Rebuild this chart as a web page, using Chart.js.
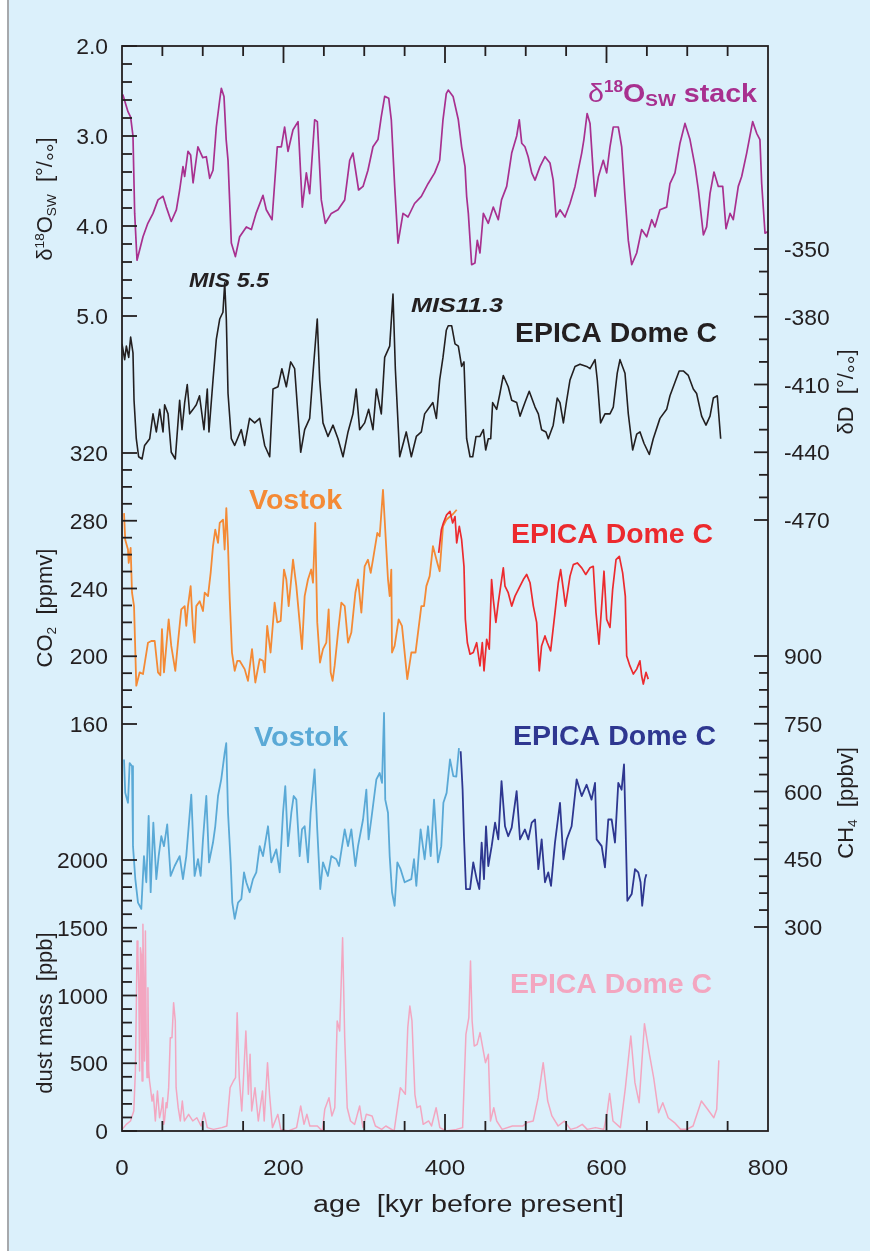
<!DOCTYPE html>
<html>
<head>
<meta charset="utf-8">
<script src="https://cdn.jsdelivr.net/npm/chart.js@4/dist/chart.umd.min.js"></script>
<style>
  html, body { margin: 0; padding: 0; background: #ffffff; }
  canvas { display: block; }
</style>
</head>
<body>
<canvas id="chart" width="870" height="1251" style="width:870px;height:1251px"></canvas>
<script>
// age axis [kyr before present]
const xTicks = [0, 200, 400, 600, 800];

// δ18O seawater stack [per mil]
const o18Age = [1,7.4,10.7,13.6,15.7,18.6,26,32,38.4,44.6,50.8,54.9,61,67.3,71.4,75.5,77.6,81.7,85,88,94,100,104.4,108.6,112.7,116.8,121,123,126.3,129,131.3,135.4,140.4,145.7,154,160.2,166,174.6,178.7,185.8,192.3,197.3,201.4,205.6,211.8,218,223.3,228.3,232.4,238.6,241.9,246.8,251.8,259.2,267.5,275.8,282,286,293,298.5,304.6,310.8,317,321,325.3,330.3,333.5,337.7,341.8,348,354.2,362.3,370.7,379,387.2,393.4,397.5,401.6,404,410,416.5,420.6,424.8,426.8,428.9,433,437.1,440,443.3,447.5,453.6,459.8,466,470,476.4,482.6,488.8,492,495,499,503,507.4,511.5,517.6,523.8,530,534,537.5,542.4,548.6,554.8,561,565,569.3,572,576,579.6,583.6,585.8,590,596,600.2,604.3,608.4,614.6,618.8,622.9,627,631.2,637.4,643.5,649.8,656,660,666.2,674.5,678.6,684.8,691,697.2,703.4,709.7,713.8,720,724,728.2,733.1,738.5,743.9,748,753,757,763.2,767.4,773.6,781,786,790,792.2,796.3,800];
const o18Val = [2.54,2.73,2.79,3.0,3.86,4.38,4.12,3.97,3.86,3.71,3.67,3.79,3.95,3.82,3.6,3.34,3.45,3.17,3.21,3.52,3.12,3.24,3.23,3.47,3.38,2.9,2.6,2.47,2.56,3.04,3.27,4.19,4.34,4.12,4.01,4.04,3.86,3.66,3.82,3.93,3.12,3.12,2.9,3.17,2.93,2.84,3.79,3.41,3.64,2.82,2.84,3.71,3.97,3.86,3.82,3.71,3.27,3.19,3.6,3.56,3.38,3.12,3.04,2.79,2.56,2.58,2.82,3.56,4.19,3.86,3.9,3.75,3.67,3.53,3.41,3.27,2.82,2.53,2.49,2.56,2.82,3.12,3.34,3.67,3.86,4.43,4.41,4.16,4.3,3.86,3.97,3.79,3.93,3.71,3.56,3.19,3.0,2.82,3.08,3.12,3.23,3.41,3.49,3.34,3.23,3.3,3.49,3.9,3.82,3.9,3.75,3.56,3.38,3.19,3.04,2.75,2.86,3.41,3.67,3.45,3.27,3.41,3.12,2.9,2.9,3.12,3.67,4.16,4.43,4.3,4.04,4.12,3.93,4.01,3.82,3.79,3.53,3.41,3.08,2.86,3.04,3.34,3.6,4.1,4.01,3.64,3.4,3.56,3.56,4.03,3.86,3.93,3.56,3.45,3.19,2.84,2.97,3.04,3.53,4.08,4.06];

// EPICA Dome C δD [per mil]
const dDAge = [0,3.3,5.4,8.3,10.7,13.6,14.9,17.7,20.6,24.8,28,34.3,38.4,42.5,46.7,50.8,52.8,57,61,66,68.5,71.4,74.3,77.6,80.8,83.8,88,92,96,101.5,105.6,107.7,112.7,116.8,121,125,127.2,129.2,131.3,135.4,139.5,147.7,151.9,158,164.3,170.5,176.7,182.9,187,193.2,198,203.5,208.9,213.8,221.3,226.2,232.4,236.5,241.8,244.8,248.9,255.1,261.3,267.5,273.7,279.9,286,290,294.3,300.5,305.5,310.8,315,321.1,325.3,331.5,335.6,338.5,343.9,352,358.3,364.5,370.7,374.8,381,385,389.3,393.4,397.5,401.6,404,408.3,412.4,416.5,420.6,423.5,426.8,431,434.3,438.4,443.3,447.5,450.4,453.6,456.6,459,464,468,472.2,478.3,482.6,488.8,492.9,499,504.3,511.5,515.6,519.6,525,527.9,534,539,542.4,546.6,550.7,554.8,561,567.2,575.4,579.6,585.8,588.6,592.7,598.1,604.3,608.4,613.3,616.7,622.9,627,632.4,637.4,641.5,646.4,653,657.9,666.2,674.5,678.6,684.8,690,695.1,701.3,707.5,711.6,717.8,723.2,728.2,732.3,737.2,741.4];
const dDVal = [-392,-399,-393,-398,-389,-396,-417,-434,-442,-443,-437,-434,-423,-431,-421,-431,-419,-423,-440,-443,-431,-417,-430,-418,-410,-423,-421,-419,-415,-430,-412,-431,-408,-390,-381,-378,-365,-381,-414,-434,-437,-430,-437,-425,-427,-425,-437,-442,-412,-411,-403,-411,-400,-403,-440,-430,-425,-405,-381,-408,-427,-433,-428,-434,-442,-431,-423,-412,-430,-427,-421,-430,-412,-423,-398,-393,-370,-403,-442,-431,-442,-433,-431,-423,-420,-418,-425,-408,-398,-386,-384,-384,-392,-393,-402,-400,-434,-442,-442,-433,-433,-430,-439,-434,-434,-418,-421,-414,-406,-411,-417,-418,-424,-418,-413,-420,-423,-430,-431,-434,-428,-416,-418,-427,-417,-408,-402,-401,-402,-403,-399,-408,-427,-423,-423,-420,-405,-399,-405,-423,-439,-432,-431,-436,-441,-434,-425,-421,-415,-409,-404,-404,-406,-412,-414,-424,-428,-424,-416,-415,-434];

// CO2 [ppmv], Vostok and EPICA Dome C
const co2VostokAge = [2.5,4,7.4,8.3,10.7,12.4,14.9,17.7,21.9,26,32.2,36.3,40.5,44.6,47.5,49.5,52,54.9,57.8,61,66,69.3,73.4,77.6,79.6,81.7,85,88,89.9,92,96.2,100.3,102.4,106.5,109.8,112.7,115.5,118.9,121,125.1,127.1,129.2,131.3,133.4,136.2,139.6,142.8,145.7,151.9,156,161,165.1,170.5,174.6,176.7,179.8,184,189,192.3,196.5,200.6,203.5,206.4,211.8,215.9,220,222.9,226.2,230.3,234.3,236.5,239.3,241.8,245.2,248.9,253,255.9,258.4,260.8,263.3,267.5,271.6,275.8,279.9,284,289,292.3,296.4,300.5,304.6,308,310.8,316.2,319.1,323.2,325.3,329.4,331.5,333.5,334.4,337.6,342.6,346.7,353.3,358.3,363.5,370.7,374,376.9,381,385.1,390.5,393.4,397.5,401.6,406.2,410,414.5];
const co2VostokVal = [284.5,268.8,263,255.1,264,237.5,229.6,182.6,190.5,189.5,208,209,209,190.5,188.8,216,190.5,206.1,221.8,206.1,191.4,208,227.7,229.6,217.9,229.6,241.4,216,208,229.6,232.5,226.7,237.5,235.5,249.2,265,274.7,266.9,278.7,280.6,263,287.5,265,233.6,202.2,191.4,197.3,197.3,192.4,185.5,204.2,184.5,198.3,197.3,190.5,217.9,202.2,231.6,220,220.8,251.2,245.3,229.6,257,241.4,220,204.2,235.5,245.3,251.2,243.4,278.7,220,196.3,204.2,208,227.7,190.5,185.5,194.3,214,231.6,229.6,208,214,237.5,245.3,225.7,253.1,257,249.2,257,272.8,270.8,298.2,280.6,245.3,235.5,251.2,202.2,206.1,221.8,217.9,186.5,202.2,202.2,229.6,229.6,241.4,247.3,265,255.1,250.2,276.7,280.6,282.5,284,286.5];
const co2EdcAge = [392.2,395.5,398,402,406.2,409.5,412.4,414.5,417.7,420.6,423.5,425.2,427.7,431,435,439.2,443.3,446.2,448.3,451.6,454.8,457.7,459.8,463,466,472.2,474.3,478.3,482.6,486.7,492.9,497,501.1,505.3,509.4,513.5,516.7,519.6,523.8,526.7,530.8,536.2,540.3,543.2,546.6,549.2,554.8,558.9,563.8,569.3,574.3,579.6,583.6,587,590.7,594,596.9,600.2,604.3,607.6,611.8,615.9,620,623.3,625,629,633.2,637.4,641.4,643.5,645.6,648.9,651.7];
const co2EdcVal = [261,274.7,278.7,283.5,285.5,278.7,282.5,266.9,276.7,268.8,253.1,221.8,208,201.2,202.2,208,194.3,208,191.4,210,204.2,245.3,233.6,220,231.6,252.2,241.4,237.5,229.6,235.5,241.4,245.3,248.3,243.4,229.6,220,191.4,206.1,212,208,203.2,225.7,243.4,251.2,239.4,229.6,247.3,254.1,255.1,252.2,248.3,252.2,253.1,225.7,207.1,229.6,250.2,221.8,217,239.4,257,259,249.2,235.5,200.2,194.3,189.5,192.4,197.3,188.5,183.6,190.5,186.5];

// CH4 [ppbv], Vostok and EPICA Dome C
const ch4VostokAge = [2.5,4,7.4,9.5,12.4,13.6,16.5,19.8,23.9,27.2,30.1,33,35.5,38.8,42.5,45.4,48.7,52,56,60.2,65.2,71.4,75.5,79.6,85.8,89.9,94.1,97.4,100.3,104.4,107.8,112.7,115.5,118.9,122.9,127.1,129.1,131.3,134.6,136.6,139.6,143.7,147.8,151.1,153.9,158.1,162.2,166.3,170.5,174.6,180.8,184.9,191.1,195.3,199.4,202.2,205.6,209.7,212.6,215.9,220,222.9,226.2,230.3,233.6,238.5,241.8,245.5,248.9,255,259.2,265.4,268.7,275.8,279.9,284,289,292.3,298.5,302.6,305.4,308.7,315,319.1,322,324.5,326,329.4,331.5,334.4,337.6,341,345,350,358.3,361.6,364.5,369.8,374.8,379,382.3,386.4,391.3,395.4,398,402,406.2,410.3,414,417.3];
const ch4VostokVal = [671,597,575,663,656,479,406,354,340,457,399,546,377,531,406,457,501,479,527,413,435,457,406,457,593,413,450,413,494,590,443,487,523,590,627,685,707,553,443,354,318,354,362,421,399,377,406,421,479,457,523,443,472,421,553,612,479,553,590,582,457,516,523,443,553,649,516,384,443,413,457,450,435,516,479,516,435,479,538,604,494,538,627,641,619,774,582,553,457,377,347,443,428,399,406,450,391,516,450,523,457,582,443,479,575,597,671,634,633,696];
const ch4EdcAge = [419.4,421.8,423.5,426,431,435,439.2,442.5,445.4,448.3,450.8,453.6,457.8,462,466,470,474.3,478.3,482.6,488.7,492.9,499,503.2,507.4,511.5,515.6,519.7,523.8,527.9,531.3,536.2,542.4,546.6,550.7,556.8,563,569.3,575.4,581.5,585.8,587.8,594,598.1,602.2,606.4,610.5,614.6,618.7,621.7,623.7,625.8,631.2,635.3,639.4,642.2,644.2,647.7,649.4];
const ch4EdcVal = [689,604,501,384,384,443,406,384,487,406,523,435,479,531,494,623,523,501,520,601,494,516,494,531,538,428,494,399,421,391,487,575,450,494,523,627,590,615,582,619,494,479,432,538,538,487,619,604,660,516,358,373,428,421,399,347,406,417];

// dust mass [ppb], EPICA Dome C
const dustAge = [0.2,5.3,10.5,14.6,16.6,17.7,18.7,19.7,20.8,21.8,22.8,23.8,24.4,24.9,25.9,26.9,27.4,27.9,29,30,31,32.1,33.1,34.1,35.2,37.2,38.8,41.3,42.4,43.9,46.5,47.5,49.1,50.6,51.6,52.6,54.7,55.7,57.8,59.8,61.9,63.9,66,67,69.6,72.2,74.7,77.3,82.5,87.6,92.7,97.9,101.5,105.6,113.3,123.6,129.8,133.9,138,140.6,142.6,145.2,148.3,150.3,153.4,156.5,158.6,160.6,164.7,168.8,174,176.1,180.2,182.7,186.3,193,196.6,205.9,216.2,221.3,225.4,229,232.6,241.9,248,251.1,256.3,259.9,263.5,266.5,269.6,273.2,275.8,278.9,283,288.1,294.3,298.4,302.5,309.7,313.8,321.6,326.7,337,344.7,350.9,353.9,356.5,359.1,362.7,365.3,369.4,373,379.7,383.3,389,393.6,401.3,414.1,421.8,425.9,429.5,431.6,433.6,436.2,439.8,443.4,447.5,450.1,453.7,456.3,460.4,464,470.7,483.5,496.4,501.5,509.2,515.4,521.6,527.2,532.4,540.1,547.8,555.5,563.2,570,576.1,586.4,596.7,600.8,603.9,608,617.2,623.4,630.1,635.2,640.4,647,653.2,658.4,664.5,669.7,676.4,684.1,691.8,699.5,707.2,717.5,725.2,732.9,736.5,739.1];
const dustVal = [12,49,74,148,443,900,1402,1304,1058,443,1353,1304,566,369,1525,1058,812,517,1476,689,394,1058,443,369,320,221,271,74,172,295,98,123,172,246,49,74,209,172,320,689,689,947,812,320,172,74,221,74,123,74,98,37,135,25,12,25,37,320,369,394,873,394,148,369,738,271,566,148,320,74,295,74,504,271,25,123,12,0,25,185,49,123,37,37,0,160,246,111,172,812,738,1427,689,172,74,49,185,25,123,111,37,12,37,0,320,271,763,922,812,271,172,185,49,74,37,172,25,0,12,25,713,836,1255,812,627,640,726,590,504,566,74,172,74,12,37,37,62,74,246,504,221,111,37,74,12,25,49,12,25,12,135,276,74,25,320,701,357,209,792,566,394,135,209,98,62,12,12,37,221,160,98,160,521];

// labelled ticks of the stacked y axes
const o18Ticks = [2.0, 3.0, 4.0, 5.0];
const co2Ticks = [320, 280, 240, 200, 160];
const dustTicks = [2000, 1500, 1000, 500, 0];
const dDTicks = [-350, -380, -410, -440, -470];
const ch4Ticks = [900, 750, 600, 450, 300];

const FONT = '"Liberation Sans", Arial, Helvetica, sans-serif';
const INK = "#231f20";
const TOP = 46, BOT = 1131;

// value range of a full-height axis, from two anchor values and their pixel rows
function span(v0, p0, v1, p1) {
  const s = (v1 - v0) / (p1 - p0);
  const a = v0 + (TOP - p0) * s, b = v0 + (BOT - p0) * s;
  return { type: "linear", display: false, min: Math.min(a, b), max: Math.max(a, b), reverse: a < b };
}

function pts(ages, vals) {
  return ages.map((a, i) => ({ x: a, y: vals[i] }));
}

function line(label, ages, vals, axis, color, width) {
  return {
    label: label,
    data: pts(ages, vals),
    yAxisID: axis,
    borderColor: color,
    borderWidth: width,
    pointRadius: 0,
    tension: 0,
    fill: false,
    borderJoinStyle: "round",
  };
}

// text in parts: [text, scale, baseline shift (em), weight]
function rich(ctx, parts, x, y, o) {
  const font = (p) => `${o.style || ""} ${p[3] || o.weight || "normal"} ${(o.size * (p[1] || 1)).toFixed(1)}px ${FONT}`;
  let w = 0;
  parts.forEach((p) => { ctx.font = font(p); w += ctx.measureText(p[0]).width; });
  const sx = o.w ? o.w / w : (o.sx || 1);
  ctx.save();
  ctx.translate(x, y);
  if (o.rot) ctx.rotate(o.rot);
  ctx.scale(sx, 1);
  ctx.fillStyle = o.color || INK;
  ctx.textAlign = "left";
  ctx.textBaseline = "alphabetic";
  let cx = o.align === "center" ? -w / 2 : o.align === "right" ? -w : 0;
  parts.forEach((p) => {
    ctx.font = font(p);
    ctx.fillText(p[0], cx, (p[2] || 0) * o.size);
    cx += ctx.measureText(p[0]).width;
  });
  ctx.restore();
}

function yTicks(ctx, sc, from, step, count, every, side, area) {
  for (let i = 0; i <= count; i++) {
    const y = sc.getPixelForValue(from + i * step);
    const major = i % every === 0;
    const len = side === "left" ? (major ? 15 : 10) : (major ? 14 : 9);
    const x0 = side === "left" ? area.left : area.right;
    ctx.beginPath();
    ctx.moveTo(x0, y);
    ctx.lineTo(side === "left" ? x0 + len : x0 - len, y);
    ctx.stroke();
  }
}

function yLabels(ctx, sc, ticks, fmt, side, area) {
  ticks.forEach((v) => {
    const y = sc.getPixelForValue(v) + 8;
    if (side === "left") rich(ctx, [[fmt(v)]], area.left - 14, y, { size: 22, align: "right", sx: 1.04 });
    else rich(ctx, [[fmt(v)]], area.right + 16, y, { size: 22, align: "left", sx: 1.04 });
  });
}

const paper = {
  id: "paper",
  beforeDraw(chart) {
    const ctx = chart.ctx;
    ctx.save();
    ctx.fillStyle = "#ffffff";
    ctx.fillRect(0, 0, chart.width, chart.height);
    ctx.fillStyle = "#dbf0fb";
    ctx.fillRect(8, 0, chart.width - 8, chart.height);
    ctx.fillStyle = "#a7a9ac";
    ctx.fillRect(7, 0, 2, chart.height);
    ctx.restore();
  },
};

const magenta = "#a8308f", orange = "#f48a35", red = "#ec2a2e";
const lightBlue = "#5aa9d6", darkBlue = "#2e3790", pink = "#f3a6c0";

const axes = {
  id: "axes",
  afterDraw(chart) {
    const ctx = chart.ctx;
    const a = chart.chartArea;
    const s = chart.scales;
    ctx.save();
    ctx.strokeStyle = INK;
    ctx.lineWidth = 1.8;
    ctx.strokeRect(a.left, a.top, a.right - a.left, a.bottom - a.top);

    // age ticks, top and bottom, pointing inwards
    for (let v = 50; v < 800; v += 50) {
      const x = s.x.getPixelForValue(v);
      const len = v % 200 === 0 ? 17 : 10;
      ctx.beginPath();
      ctx.moveTo(x, a.top); ctx.lineTo(x, a.top + len);
      ctx.moveTo(x, a.bottom); ctx.lineTo(x, a.bottom - len);
      ctx.stroke();
    }
    yTicks(ctx, s.yO18, 2.0, 0.2, 15, 5, "left", a);
    yTicks(ctx, s.yCO2, 320, -10, 16, 4, "left", a);
    yTicks(ctx, s.yDust, 2000, -100, 20, 5, "left", a);
    yTicks(ctx, s.yDD, -350, -10, 12, 3, "right", a);
    yTicks(ctx, s.yCH4, 900, -37.5, 16, 4, "right", a);

    yLabels(ctx, s.yO18, o18Ticks, (v) => v.toFixed(1), "left", a);
    yLabels(ctx, s.yCO2, co2Ticks, String, "left", a);
    yLabels(ctx, s.yDust, dustTicks, String, "left", a);
    yLabels(ctx, s.yDD, dDTicks, String, "right", a);
    yLabels(ctx, s.yCH4, ch4Ticks, String, "right", a);

    xTicks.forEach((v) => {
      rich(ctx, [[String(v)]], s.x.getPixelForValue(v), a.bottom + 44, { size: 22, align: "center", sx: 1.1 });
    });
    rich(ctx, [["age  [kyr before present]"]], 313, 1212, { size: 23, w: 311 });

    // axis titles
    const up = -Math.PI / 2;
    rich(ctx, [["δ"], ["18", 0.62, -0.38], ["O"], ["SW", 0.62, 0.2], ["  [°/"], ["°°", 1, 0.5], ["]"]], 52, 199, { size: 22, rot: up, align: "center" });
    rich(ctx, [["CO"], ["2", 0.62, 0.2], ["  [ppmv]"]], 52, 608, { size: 22, rot: up, align: "center" });
    rich(ctx, [["dust mass  [ppb]"]], 52, 1013, { size: 22, rot: up, align: "center" });
    rich(ctx, [["δD  [°/"], ["°°", 1, 0.5], ["]"]], 853, 392, { size: 22, rot: up, align: "center" });
    rich(ctx, [["CH"], ["4", 0.62, 0.2], ["  [ppbv]"]], 853, 803, { size: 22, rot: up, align: "center" });

    // record names
    rich(ctx, [["δ", 1, 0, "normal"], ["18", 0.6, -0.4], ["O"], ["SW", 0.66, 0.14], [" stack"]], 588, 102, { size: 26, weight: "bold", color: magenta, w: 169 });
    rich(ctx, [["MIS 5.5"]], 189, 287, { size: 21, weight: "bold", style: "italic", w: 80 });
    rich(ctx, [["MIS11.3"]], 411, 312, { size: 21, weight: "bold", style: "italic", w: 92 });
    rich(ctx, [["EPICA Dome C"]], 515, 342, { size: 27, weight: "bold", w: 202 });
    rich(ctx, [["Vostok"]], 249, 509, { size: 27, weight: "bold", color: orange, w: 93 });
    rich(ctx, [["EPICA Dome C"]], 511, 543, { size: 27, weight: "bold", color: red, w: 202 });
    rich(ctx, [["Vostok"]], 254, 746, { size: 27, weight: "bold", color: lightBlue, w: 94 });
    rich(ctx, [["EPICA Dome C"]], 513, 745, { size: 27, weight: "bold", color: darkBlue, w: 203 });
    rich(ctx, [["EPICA Dome C"]], 510, 993, { size: 27, weight: "bold", color: pink, w: 202 });
    ctx.restore();
  },
};

new Chart(document.getElementById("chart"), {
  type: "line",
  data: {
    datasets: [
      line("δ18O stack", o18Age, o18Val, "yO18", magenta, 1.7),
      line("EPICA δD", dDAge, dDVal, "yDD", INK, 1.6),
      line("EPICA CO2", co2EdcAge, co2EdcVal, "yCO2", red, 1.7),
      line("Vostok CO2", co2VostokAge, co2VostokVal, "yCO2", orange, 1.8),
      line("EPICA CH4", ch4EdcAge, ch4EdcVal, "yCH4", darkBlue, 1.8),
      line("Vostok CH4", ch4VostokAge, ch4VostokVal, "yCH4", lightBlue, 1.8),
      line("EPICA dust", dustAge, dustVal, "yDust", pink, 1.5),
    ],
  },
  options: {
    responsive: false,
    devicePixelRatio: 1,
    animation: false,
    layout: { padding: { left: 122, right: 102, top: 46, bottom: 120 } },
    plugins: { legend: { display: false }, tooltip: { enabled: false } },
    scales: {
      x: { type: "linear", display: false, min: 0, max: 800 },
      yO18: span(2.0, 46, 5.0, 316),
      yDD: span(-350, 249, -470, 520),
      yCO2: span(320, 453, 160, 724),
      yCH4: span(900, 656, 300, 927),
      yDust: span(2000, 860, 0, 1131),
    },
  },
  plugins: [paper, axes],
});
</script>
</body>
</html>
